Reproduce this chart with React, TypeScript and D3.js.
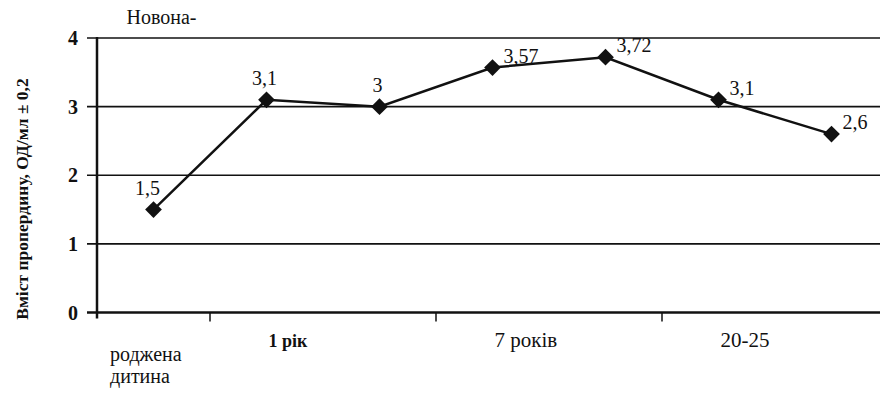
import { useEffect, useRef } from "react";
import * as d3 from "d3";

const categories = ["c1", "c2", "c3", "c4", "c5", "c6", "c7"];
const values = [1.5, 3.1, 3, 3.57, 3.72, 3.1, 2.6];
const valueLabels = ["1,5", "3,1", "3", "3,57", "3,72", "3,1", "2,6"];
const labelSide = ["above", "above", "above", "right", "right", "right", "right"];
const yTicks = [0, 1, 2, 3, 4];
const xTickAt = [1, 3, 5];
const ageLabels = ["1 рік", "7 років", "20-25"];
const ageAt = [1, 3, 5];
const yTitle = "Вміст пропердину, ОД/мл ± 0,2";

const FONT = "'Liberation Serif', 'Times New Roman', serif";

export default function App() {
  const ref = useRef<SVGSVGElement>(null);
  const width = 888;
  const height = 409;
  const margin = { top: 38, right: 0, bottom: 97, left: 97 };

  useEffect(() => {
    const svg = d3.select(ref.current);
    svg.selectAll("*").remove();

    const x = d3
      .scaleBand()
      .domain(categories)
      .range([margin.left, width - margin.right])
      .padding(0);
    const y = d3
      .scaleLinear()
      .domain([0, 4])
      .range([height - margin.bottom + 0.5, margin.top]);
    const cx = (i: number) => x(categories[i])! + x.bandwidth() / 2;

    // grid
    svg
      .selectAll("line.grid")
      .data(yTicks.slice(1))
      .join("line")
      .attr("x1", margin.left - 10)
      .attr("x2", width)
      .attr("y1", (d) => y(d))
      .attr("y2", (d) => y(d))
      .attr("stroke", "#111")
      .attr("stroke-width", 1.6);

    // axes
    svg
      .append("line")
      .attr("x1", margin.left - 10)
      .attr("x2", width)
      .attr("y1", y(0))
      .attr("y2", y(0))
      .attr("stroke", "#111")
      .attr("stroke-width", 2.5);
    svg
      .append("line")
      .attr("x1", margin.left)
      .attr("x2", margin.left)
      .attr("y1", y(4) - 1)
      .attr("y2", y(0) + 6)
      .attr("stroke", "#111")
      .attr("stroke-width", 2.5);
    svg
      .selectAll("line.xtick")
      .data(xTickAt)
      .join("line")
      .attr("x1", (i) => x(categories[i])!)
      .attr("x2", (i) => x(categories[i])!)
      .attr("y1", y(0))
      .attr("y2", y(0) + 9)
      .attr("stroke", "#111")
      .attr("stroke-width", 1.5);

    const txt = (sel: any) =>
      sel.style("font-family", FONT).attr("fill", "#111");

    svg
      .selectAll("text.ytick")
      .data(yTicks)
      .join("text")
      .attr("x", 73)
      .attr("y", (d) => y(d) + 7)
      .attr("text-anchor", "middle")
      .attr("font-size", 20)
      .attr("font-weight", "bold")
      .text((d) => d)
      .call(txt);

    svg
      .append("text")
      .attr("transform", `translate(28, ${(y(4) + 360) / 2}) rotate(-90)`)
      .attr("text-anchor", "middle")
      .attr("font-size", 17.5)
      .attr("font-weight", "bold")
      .text(yTitle)
      .call(txt);

    const line = d3
      .line<number>()
      .x((_, i) => cx(i))
      .y((d) => y(d));
    svg
      .append("path")
      .attr("d", line(values))
      .attr("fill", "none")
      .attr("stroke", "#111")
      .attr("stroke-width", 2.5);

    // rotated square markers
    svg
      .selectAll("path.pt")
      .data(values)
      .join("path")
      .attr("d", d3.symbol(d3.symbolSquare, 140)())
      .attr("transform", (d, i) => `translate(${cx(i)}, ${y(d)}) rotate(45)`)
      .attr("fill", "#111");

    svg
      .selectAll("text.val")
      .data(values)
      .join("text")
      .attr("x", (d, i) =>
        labelSide[i] === "above" ? cx(i) - (i === 0 ? 6 : 2) : cx(i) + 11
      )
      .attr("y", (d, i) => (labelSide[i] === "above" ? y(d) - 15 : y(d) - 5))
      .attr("text-anchor", (d, i) => (labelSide[i] === "above" ? "middle" : "start"))
      .attr("font-size", 20)
      .text((d, i) => valueLabels[i])
      .call(txt);

    svg
      .selectAll("text.age")
      .data(ageLabels)
      .join("text")
      .attr("x", (d, k) => cx(ageAt[k]) + 2)
      .attr("y", y(0) + 34)
      .attr("font-size", (d, k) => (k === 0 ? 18 : 21))
      .attr("font-weight", (d, k) => (k === 0 ? "bold" : "normal"))
      .text((d) => d)
      .call(txt);

    svg
      .append("text")
      .attr("x", cx(0) - 27)
      .attr("y", 24)
      .attr("font-size", 20)
      .text("Новона-")
      .call(txt);
    svg
      .append("text")
      .attr("x", 110)
      .attr("y", 361)
      .attr("font-size", 20)
      .text("роджена")
      .call(txt);
    svg
      .append("text")
      .attr("x", 110)
      .attr("y", 383)
      .attr("font-size", 20)
      .text("дитина")
      .call(txt);
  }, []);

  return (
    <div style={{ margin: -8 }}>
      <svg ref={ref} width={width} height={height} />
    </div>
  );
}
